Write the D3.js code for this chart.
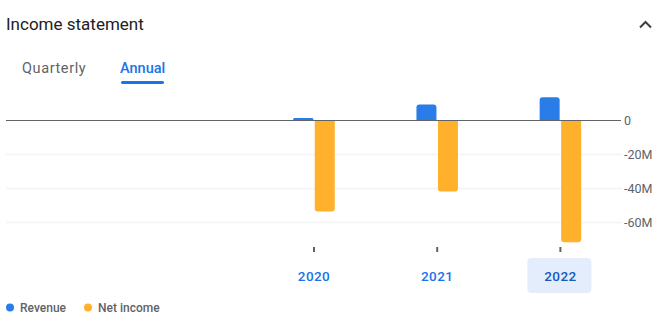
<!DOCTYPE html>
<html><head><meta charset="utf-8">
<script src="https://cdn.jsdelivr.net/npm/d3@7/dist/d3.min.js"></script>
<style>
html,body{margin:0;padding:0;background:#fff;}
svg{display:block;font-family:Roboto,"Noto Sans",sans-serif;}
</style></head>
<body><svg id="c" width="667" height="329"></svg>
<script>
// Data (values in millions)
const categories = ["2020", "2021", "2022"];
const revenue = [1.5, 9.4, 13.7];
const netIncome = [-53.5, -41.8, -71.6];
const yTicks = [0, -20, -40, -60];
const seriesNames = ["Revenue", "Net income"];
const selectedYear = "2022";
const emptySlots = ["_a", "_b"]; // empty leading periods on the axis

const colors = ["#2a7de8", "#ffb12c"];
const svg = d3.select("#c");

// Header
svg.append("text").attr("x", 6).attr("y", 29.5).attr("font-size", 17).attr("fill", "#202124").text("Income statement");
svg.append("path").attr("d", "M640,27.5 L645.5,22 L651,27.5").attr("fill", "none").attr("stroke", "#3c4043").attr("stroke-width", 2);
svg.append("text").attr("x", 22).attr("y", 73).attr("font-size", 14.5).attr("letter-spacing", 0.6).attr("fill", "#5f6368").text("Quarterly");
svg.append("text").attr("x", 120).attr("y", 73).attr("font-size", 14.5).attr("fill", "#1a73e8").attr("font-weight", 500).text("Annual");
svg.append("rect").attr("x", 121).attr("y", 81).attr("width", 43).attr("height", 3).attr("rx", 1.5).attr("fill", "#1a73e8");

// Scales
const x = d3.scaleBand().domain(emptySlots.concat(categories)).range([6, 622]);
const y = d3.scaleLinear().domain([0, -60]).range([120.5, 222.5]);
const bw = 20, gap = 1.5;

// Grid
svg.append("g").selectAll("line").data(yTicks.filter(d => d !== 0)).join("line")
  .attr("x1", 6).attr("x2", 622).attr("y1", d => y(d)).attr("y2", d => y(d))
  .attr("stroke", "#f1f3f4").attr("stroke-width", 1.5);

// Y labels
svg.append("g").selectAll("text").data(yTicks).join("text")
  .attr("x", 624).attr("y", d => y(d) + 4.5).attr("font-size", 12.5).attr("fill", "#5f6368")
  .text(d => d === 0 ? "0" : d + "M");

// Bar path with rounded outer end
function barPath(x0, w, v) {
  const y0 = y(0), y1 = y(v);
  const h = Math.abs(y1 - y0);
  const r = Math.min(3, h / 2, w / 2);
  if (v >= 0) {
    return `M${x0},${y0} V${y1 + r} Q${x0},${y1} ${x0 + r},${y1} H${x0 + w - r} Q${x0 + w},${y1} ${x0 + w},${y1 + r} V${y0} Z`;
  } else {
    return `M${x0},${y0} V${y1 - r} Q${x0},${y1} ${x0 + r},${y1} H${x0 + w - r} Q${x0 + w},${y1} ${x0 + w},${y1 - r} V${y0} Z`;
  }
}

const cx = d => x(d) + x.bandwidth() / 2;
svg.append("g").selectAll("path").data(categories).join("path")
  .attr("d", (d, i) => barPath(cx(d) - gap / 2 - bw, bw, revenue[i])).attr("fill", colors[0]);
svg.append("g").selectAll("path").data(categories).join("path")
  .attr("d", (d, i) => barPath(cx(d) + gap / 2, bw, netIncome[i])).attr("fill", colors[1]);

// Zero baseline
svg.append("line").attr("x1", 6).attr("x2", 621).attr("y1", y(0)).attr("y2", y(0))
  .attr("stroke", "#5f6368").attr("stroke-width", 1.2);

// X axis ticks & labels
svg.append("g").selectAll("rect").data(categories).join("rect")
  .attr("x", d => cx(d) - 1).attr("y", 247).attr("width", 2).attr("height", 5).attr("fill", "#5f6368");
svg.append("rect").attr("x", cx(selectedYear) - 33).attr("y", 258).attr("width", 64).attr("height", 35)
  .attr("rx", 4).attr("fill", "#e3edfb");
svg.append("g").selectAll("text").data(categories).join("text")
  .attr("x", d => cx(d)).attr("y", 281).attr("text-anchor", "middle").attr("font-size", 13.5)
  .attr("letter-spacing", 0.4)
  .attr("font-weight", 500).attr("fill", d => d === selectedYear ? "#1559c1" : "#1a73e8").text(d => d);

// Legend
const leg = svg.append("g");
const lx = [10, 88];
seriesNames.forEach((n, i) => {
  leg.append("circle").attr("cx", lx[i]).attr("cy", 307.5).attr("r", 4).attr("fill", colors[i]);
  leg.append("text").attr("x", lx[i] + 10).attr("y", 312).attr("font-size", 12).attr("font-weight", 500)
    .attr("fill", "#5f6368").text(n);
});
</script></body></html>
